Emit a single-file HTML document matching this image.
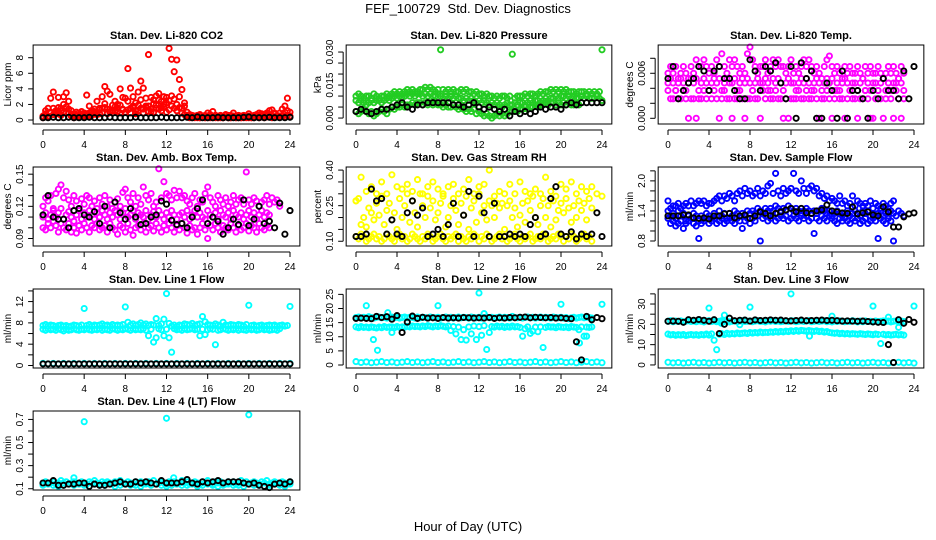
<!DOCTYPE html>
<html><head><meta charset="utf-8"><title>FEF_100729 Std. Dev. Diagnostics</title>
<style>
html,body{margin:0;padding:0;background:#fff;}
svg{display:block;font-family:"Liberation Sans",Arial,sans-serif;}
</style></head>
<body>
<svg id="chart" width="936" height="540" viewBox="0 0 936 540" xmlns="http://www.w3.org/2000/svg">
<rect x="0" y="0" width="936" height="540" fill="#fff"/>
<text x="468" y="13" text-anchor="middle" font-size="13">FEF_100729&#160; Std. Dev. Diagnostics</text>
<text x="468" y="531" text-anchor="middle" font-size="13">Hour of Day (UTC)</text>
</svg>
<script>
// ---------- shared categories ----------
const HOURS_Q = []; for (let i = 0; i < 97; i++) HOURS_Q.push(i * 0.25);
const HOURS_H = []; for (let i = 0; i < 49; i++) HOURS_H.push(i * 0.5);
const xTicks = [0, 4, 8, 12, 16, 20, 24];
const xTickLabels = ["0", "4", "8", "12", "16", "20", "24"];

// ---------- Panel 1: Li-820 CO2 ----------
const co2A = [0.5,1.2,1.5,2.8,3.6, 1.0,2.9,1.5,3.0, 3.5,2.4,1.2,0.8, 1.0,0.6,1.1,0.9, 3.2,1.8,1.0,1.4, 2.4,1.5,3.0,4.3, 3.7,3.3,1.9,2.4, 2.0,4.0,2.9,2.8, 6.6,4.1,3.0,2.2, 3.6,5.0,4.1,2.8, 8.4,2.9,2.6,3.1, 3.4,2.4,3.0,2.2, 9.2,7.8,6.2,7.7, 5.2,3.9,2.2,1.0, 0.7,0.6,0.5,0.6, 0.7,0.5,0.6,0.9, 0.7,1.1,0.6,0.5, 0.6,0.5,0.7,0.6, 0.6,0.9,0.5,0.6, 0.5,0.6,0.4,0.8, 0.5,0.6,0.7,0.9, 0.8,0.6,0.9,1.2, 1.3,0.8,0.6,0.9, 1.4,1.8,2.8,1.0];
const co2B = [0.3,0.6,0.4,1.0,1.5, 0.8,1.6,1.2,2.0, 1.7,0.9,0.6,0.5, 0.4,0.5,0.7,0.4, 0.8,0.6,1.2,0.9, 1.0,0.8,1.5,2.1, 1.4,1.0,1.2,1.7, 1.5,1.9,1.3,1.0, 2.4,1.5,1.8,1.2, 1.9,2.6,1.4,1.6, 1.8,1.1,2.1,1.5, 2.6,1.6,2.0,2.9, 2.5,3.1,2.7,2.0, 3.0,1.5,1.8,0.6, 0.4,0.3,0.4,0.3, 0.3,0.4,0.3,0.5, 0.4,0.3,0.6,0.3, 0.4,0.3,0.4,0.3, 0.3,0.5,0.3,0.4, 0.3,0.4,0.3,0.5, 0.3,0.4,0.5,0.6, 0.5,0.7,0.4,0.6, 0.5,0.9,0.4,0.5, 0.6,1.0,1.2,0.5];
const co2C = [0.4,0.8,0.5,0.9,0.7, 1.2,0.8,0.6,1.0, 0.9,1.4,0.5,0.3, 0.6,0.9,0.5,0.7, 0.5,0.9,0.6,1.1, 0.7,1.3,0.9,1.6, 0.8,1.1,0.9,1.2, 1.1,0.9,1.4,1.0, 1.3,0.9,1.6,0.8, 1.2,1.5,0.9,1.8, 1.1,1.4,1.0,1.9, 1.4,1.2,1.7,1.0, 1.3,1.8,1.5,1.2, 1.6,0.9,0.7,0.4, 0.3,0.4,0.3,0.4, 0.3,0.5,0.3,0.3, 0.3,0.4,0.3,0.3, 0.3,0.3,0.4,0.3, 0.3,0.4,0.3,0.3, 0.3,0.3,0.4,0.3, 0.3,0.3,0.4,0.3, 0.4,0.3,0.5,0.4, 0.3,0.4,0.5,0.4, 0.5,0.4,0.6,0.4];
const co2Black = [0.3,0.3,0.35,0.3,0.3,0.35,0.3,0.3,0.3,0.35,0.3,0.3,0.3,0.35,0.3,0.3,0.3,0.3,0.35,0.3,0.3,0.3,0.3,0.35,0.3,0.3,0.3,0.3,0.35,0.3,0.4,0.3,0.3,0.3,0.35,0.3,0.3,0.3,0.3,0.35,0.4,0.3,0.3,0.3,0.35,0.3,0.3,0.3,0.35];
const co2Ticks = [0,2,4,6,8];
const co2TickLabels = ["0","2","4","6","8"];

// ---------- Panel 2: Li-820 Pressure ----------
const presA = [.010,.011,.010,.009,.010, .010,.009,.011,.010, .009,.010,.010,.011, .010,.011,.012,.011, .012,.011,.012,.013, .012,.013,.012,.012, .013,.013,.014,.013, .014,.013,.012,.013, .031,.013,.012,.013, .012,.013,.012,.012, .013,.012,.013,.012, .012,.011,.012,.011, .011,.010,.011,.010, .010,.009,.010,.009, .010,.010,.009,.010, .029,.009,.010,.010, .010,.011,.010,.011, .011,.010,.011,.012, .011,.012,.012,.013, .012,.013,.012,.013, .012,.013,.012,.012, .012,.011,.012,.012, .012,.011,.012,.011, .012,.011,.012,.031];
const presB = [.008,.007,.008,.007,.006, .007,.008,.007,.008, .008,.007,.008,.009, .008,.009,.010,.009, .010,.009,.010,.011, .010,.011,.010,.011, .011,.010,.011,.010, .011,.010,.010,.011, .010,.009,.010,.009, .010,.009,.010,.009, .009,.008,.009,.008, .009,.008,.007,.008, .007,.008,.007,.006, .007,.006,.007,.006, .005,.006,.007,.006, .006,.007,.006,.007, .007,.006,.007,.008, .007,.008,.008,.007, .008,.009,.008,.009, .009,.010,.009,.010, .010,.009,.010,.009, .010,.009,.009,.010, .009,.010,.009,.009, .009,.010,.009,.008];
const presC = [.003,.002,.003,.004,.003, .002,.003,.001,.002, .003,.004,.003,.002, .004,.005,.004,.005, .005,.006,.005,.006, .006,.007,.006,.007, .007,.006,.007,.006, .007,.006,.007,.006, .006,.005,.006,.005, .005,.006,.005,.004, .005,.004,.003,.004, .003,.004,.002,.003, .002,.001,.002,.001, .000,.001,.002,.001, .002,.001,.002,.003, .003,.004,.003,.004, .004,.005,.004,.005, .005,.006,.005,.006, .006,.007,.006,.007, .007,.006,.007,.006, .007,.006,.007,.006, .006,.007,.006,.007];
const presBlack = [.003,.004,.003,.002,.003,.004,.004,.005,.006,.007,.005,.004,.006,.006,.007,.007,.007,.007,.007,.006,.006,.005,.006,.007,.005,.004,.005,.004,.003,.004,.001,.003,.002,.003,.002,.003,.005,.004,.005,.005,.004,.006,.007,.006,.007,.007,.007,.007,.007];
const presTicks = [0,.005,.010,.015,.020,.025,.030];
const presTickLabels = ["0.000","","","0.015","","","0.030"];

// ---------- Panel 3: Li-820 Temp ----------
const tempA = [.006,.0069,.006,.0069,.0053, .006,.0069,.006,.0053, .0069,.006,.0078,.0069, .0069,.0078,.0069,.006, .0069,.006,.0078,.0069, .0086,.0069,.006,.0078, .0069,.0078,.0069,.006, .0069,.006,.0086,.0095, .0078,.0069,.006,.0069, .0069,.0078,.006,.0069, .0078,.0069,.0078,.0069, .0069,.006,.0069,.0078, .006,.0069,.006,.0069, .0078,.0069,.0078,.0069, .006,.0069,.006,.0053, .0069,.0078,.0083,.0069, .006,.0069,.006,.0053, .0069,.006,.0069,.006, .006,.0069,.006,.0053, .0069,.006,.0069,.006, .006,.0069,.006,.0053, .006,.0069,.006,.0069, .006,.0053,.0069,.006];
const tempB = [.0047,.0053,.0047,.0037,.0047, .0053,.0047,.0037,.0047, .0053,.0047,.0053,.0037, .0047,.0053,.0047,.0037, .0047,.0053,.0047,.0053, .0037,.0047,.0053,.0047, .0047,.0053,.0037,.0047, .0053,.0047,.0053,.0047, .0037,.0047,.0053,.0047, .0047,.0053,.0047,.0037, .0053,.0047,.0053,.0047, .0037,.0047,.0053,.0047, .0047,.0037,.0047,.0053, .0047,.0053,.0047,.0037, .0047,.0053,.0047,.0037, .0047,.0053,.0047,.0053, .0037,.0047,.0037,.0047, .0053,.0047,.0037,.0047, .0047,.0037,.0047,.0053, .0037,.0047,.0037,.0047, .0047,.0037,.0047,.0053, .0037,.0047,.0037,.0047, .0047,.0053,.0047,.0037];
const tempC = [.0037,.0026,.0026,.0037,.0026, .0026,.0037,.0026,0, .0026,.0026,0,.0026, .0026,.0037,.0026,.0037, .0026,.0037,.0026,0, .0026,.0037,.0026,.0026, 0,.0026,.0026,.0037, .0026,0,.0026,.0026, .0037,.0026,.0026,0, .0037,.0026,.0037,.0026, .0026,.0037,.0026,.0026, 0,.0026,0,.0026, .0026,.0026,.0037,.0026, .0026,.0037,.0026,.0026, .0037,.0026,0,.0026, .0026,.0037,.0026,0, .0026,.0037,.0026,.0026, 0,.0026,.0037,.0026, .0026,0,.0026,.0026, .0037,.0026,0,0, .0026,.0037,.0026,0, .0026,.0037,.0026,0, .0037,.0026,0,.0026];
const tempBlack = [.0053,.0069,.0026,.0037,.0047,.0053,.0069,.0063,.0037,.0063,.0069,.0053,.0053,.0037,.0026,.0026,.0078,.0063,.0037,.0069,.0063,.0074,.0047,.0026,.0069,0,.0074,.0053,.0063,0,0,.0047,.0037,0,.0063,0,.0037,.0037,.0026,0,.0037,.0026,.0053,.0037,.0037,.0026,.0063,.0026,.0069];
const tempTicks = [0,.002,.004,.006,.008];
const tempTickLabels = ["0.000","","","0.006",""];

// ---------- Panel 4: Amb. Box Temp ----------
const boxA = [.12,.128,.125,.13,.118, .132,.136,.14,.128, .134,.126,.12,.13, .125,.118,.127,.122, .13,.128,.12,.125, .118,.128,.122,.13, .12,.126,.118,.124, .127,.12,.133,.136, .128,.124,.132,.12, .128,.122,.138,.13, .126,.132,.12,.124, .155,.128,.143,.132, .13,.126,.135,.128, .134,.128,.13,.125, .122,.128,.132,.12, .126,.124,.132,.138, .128,.124,.12,.13, .126,.122,.128,.12, .124,.13,.122,.126, .128,.122,.152,.126, .122,.128,.125,.12, .124,.126,.13,.122, .128,.124,.126,.12];
const boxB = [.11,.114,.108,.112,.116, .11,.114,.118,.108, .112,.115,.11,.106, .112,.116,.108,.114, .11,.116,.112,.108, .114,.11,.116,.112, .108,.114,.11,.116, .112,.108,.114,.118, .11,.112,.116,.108, .114,.112,.11,.116, .108,.112,.115,.11, .116,.112,.108,.114, .11,.116,.112,.108, .112,.114,.11,.116, .108,.112,.116,.11, .114,.11,.108,.116, .112,.11,.114,.108, .116,.112,.11,.114, .108,.116,.112,.11, .114,.108,.112,.116, .11,.114,.108,.112, .116,.11,.114,.112];
const boxC = [.1,.098,.104,.1,.106, .102,.096,.104,.1, .098,.104,.096,.1, .095,.102,.098,.104, .1,.096,.102,.1, .104,.098,.1,.102, .096,.104,.1,.098, .094,.102,.1,.096, .104,.098,.093,.1, .102,.098,.104,.096, .1,.102,.097,.104, .1,.096,.102,.098, .104,.1,.096,.102, .098,.104,.1,.095, .102,.098,.1,.094, .1,.104,.098,.09, .102,.098,.104,.1, .096,.102,.1,.098, .104,.1,.096,.102, .098,.1,.104,.097, .102,.1,.096,.104, .1,.098,.102,.1];
const boxBlack = [.112,.13,.11,.108,.108,.1,.116,.118,.112,.11,.115,.104,.12,.1,.124,.114,.108,.118,.11,.103,.104,.11,.112,.125,.122,.107,.103,.104,.1,.11,.118,.126,.104,.11,.106,.094,.1,.108,.103,.126,.102,.108,.12,.104,.106,.1,.123,.094,.116];
const boxTicks = [.09,.10,.11,.12,.13,.14,.15];
const boxTickLabels = ["0.09","","","0.12","","","0.15"];

// ---------- Panel 5: Gas Stream RH ----------
const rhA = [.12,.11,.13,.12,.1, .11,.12,.13,.11, .12,.1,.11,.13, .12,.11,.1,.12, .13,.11,.12,.1, .11,.13,.12,.11, .1,.12,.11,.13, .12,.1,.11,.12, .13,.11,.1,.12, .11,.12,.13,.1, .12,.11,.1,.12, .11,.13,.12,.1, .12,.11,.13,.12, .1,.11,.12,.13, .11,.12,.1,.11, .12,.13,.11,.1, .12,.11,.12,.13, .1,.11,.12,.11, .13,.12,.1,.11, .12,.11,.13,.12, .1,.12,.11,.13, .12,.1,.11,.12, .13,.11,.12,.1];
const rhB = [.27,.28,.17,.2,.16, .24,.22,.19,.26, .21,.29,.17,.23, .26,.19,.22,.15, .28,.2,.25,.3, .18,.27,.22,.16, .3,.25,.2,.33, .24,.27,.19,.22, .26,.29,.16,.2, .25,.28,.23,.17, .26,.21,.29,.15, .24,.27,.18,.3, .22,.25,.19,.27, .25,.2,.26,.24, .26,.15,.25,.27, .2,.24,.16,.21, .26,.18,.27,.23, .29,.2,.17,.25, .28,.2,.25,.16, .27,.19,.23,.26, .22,.28,.24,.18, .25,.2,.27,.23, .26,.19,.28,.24];
const rhC = [.27,.37,.31,.33,.3,.35,.3,.38,.33,.32,.34,.31,.36,.3,.29,.35,.32,.3,.33,.34,.3,.32,.36,.3,.33,.34,.4,.29,.31,.3,.34,.3,.35,.31,.3,.32,.3,.37,.31,.29,.34,.32,.35,.3,.33,.31,.33,.3,.29];
const rhBlack = [.12,.12,.13,.32,.27,.28,.13,.19,.13,.12,.22,.27,.21,.24,.12,.13,.15,.12,.17,.26,.12,.21,.31,.12,.29,.22,.12,.26,.12,.12,.13,.12,.13,.12,.17,.2,.12,.13,.28,.33,.13,.12,.14,.11,.13,.12,.13,.22,.12];
const rhTicks = [.10,.15,.20,.25,.30,.35,.40];
const rhTickLabels = ["0.10","","","0.25","","","0.40"];

// ---------- Panel 6: Sample Flow ----------
const sfA = [1.4,1.3,1.35,1.25,1.4, 1.3,1.35,1.2,1.3, 1.25,1.35,1.3,1.2, 1.3,1.25,1.35,1.3, 1.25,1.35,1.3,1.4, 1.3,1.35,1.25,1.35, 1.3,1.4,1.35,1.3, 1.35,1.3,1.4,1.35, 1.4,1.35,1.45,1.4, 1.35,1.45,1.4,1.45, 1.4,1.5,1.45,1.4, 1.45,1.4,1.5,1.45, 1.4,1.45,1.4,1.35, 1.4,1.45,1.4,1.35, 1.4,1.35,1.4,1.45, 1.4,1.35,1.4,1.3, 1.35,1.4,1.35,1.3, 1.35,1.4,1.3,1.35, 1.4,1.35,1.3,1.4, 1.35,1.4,1.3,1.35, 1.3,1.35,1.4,1.3, 1.35,1.3,1.4,1.35, 1.3,1.4,1.35,1.3];
const sfB = [1.25,1.15,1.2,1.1,1.15, 1.2,1.05,1.15,1.2, 1.25,1.15,1.1,0.85, 1.15,1.2,1.25,1.15, 1.2,1.25,1.15,1.2, 1.25,1.15,1.2,1.25, 1.2,1.15,1.25,1.2, 1.05,1.2,1.25,1.15, 1.25,1.2,1.3,0.8, 1.25,1.3,1.2,1.25, 1.3,1.2,1.25,1.3, 1.25,1.3,1.2,1.25, 1.3,1.25,1.2,1.3, 1.25,1.3,1.2,1.25, 0.95,1.25,1.2,1.3, 1.25,1.2,1.3,1.25, 1.2,1.15,1.25,1.2, 1.25,1.2,1.15,1.25, 1.2,1.25,1.15,1.2, 1.25,1.15,1.2,1.25, 1.2,0.85,1.25,1.2, 1.15,1.25,1.2,0.8];
const sfC = [1.6,1.45,1.5,1.5,1.55, 1.45,1.5,1.55,1.5, 1.6,1.5,1.55,1.6, 1.55,1.6,1.5,1.55, 1.55,1.6,1.65,1.7, 1.6,1.7,1.65,1.75, 1.7,1.6,1.75,1.8, 1.7,1.85,1.75,1.8, 1.7,1.75,1.85,1.7, 1.8,1.75,1.9,1.95, 1.75,2.15,1.8,1.7, 1.85,1.75,1.8,1.85, 2.15,1.8,1.75,2.0, 1.85,1.75,1.85,1.9, 1.8,1.85,1.7,1.75, 1.65,1.7,1.6,1.65, 1.6,1.55,1.7,1.55, 1.6,1.5,1.55,1.7, 1.5,1.6,1.55,1.5, 1.55,1.5,1.6,1.45, 1.55,1.5,1.45,1.55, 1.5,1.45,1.55,1.6];
const sfBlack = [1.3,1.3,1.3,1.32,1.32,1.26,1.25,1.26,1.24,1.3,1.3,1.34,1.35,1.26,1.3,1.32,1.25,1.3,1.38,1.35,1.3,1.35,1.38,1.42,1.45,1.38,1.45,1.36,1.35,1.4,1.42,1.52,1.4,1.38,1.36,1.35,1.48,1.34,1.36,1.38,1.32,1.3,1.48,1.38,1.08,1.08,1.28,1.34,1.36];
const sfTicks = [0.8,1.0,1.2,1.4,1.6,1.8,2.0,2.2];
const sfTickLabels = ["0.8","","","1.4","","","2.0",""];

// ---------- Panel 7: Line 1 Flow ----------
const l1A = [7.5,7.7,7.4,7.6,7.5, 7.3,7.5,7.6,7.4, 7.5,7.3,7.4,7.6, 7.5,7.4,7.6,10.7, 7.5,7.7,7.4,7.6, 7.5,7.6,7.8,7.5, 7.6,7.4,7.7,7.5, 7.6,7.5,7.7,11.0, 8.1,7.6,7.8,7.5, 7.7,8.0,7.6,7.8, 7.5,7.7,7.6,8.8, 7.5,7.8,8.7,13.5, 7.9,7.4,7.6,7.3, 7.6,7.5,7.8,7.7, 7.6,7.9,7.5,7.7, 7.8,9.2,8.2,7.7, 7.6,7.5,7.8,7.6, 7.4,8.1,7.6,7.5, 7.7,7.6,7.5,7.7, 7.6,7.4,7.7,11.3, 7.5,7.6,7.4,7.5, 7.6,7.4,7.5,7.6, 7.5,7.6,7.4,7.5, 7.6,7.4,7.5,11.1];
const l1B = [6.8,6.6,6.9,6.7,6.8, 6.6,6.9,6.7,6.5, 6.8,6.6,6.7,6.9, 6.7,6.6,6.8,6.7, 6.9,6.7,6.6,6.8, 6.7,6.9,6.6,6.8, 6.7,6.6,6.9,6.8, 6.6,6.8,6.7,6.9, 6.8,6.6,6.9,6.7, 6.8,6.7,6.9,6.6, 5.6,6.8,4.4,5.2, 6.9,6.7,5.6,6.8, 5.2,2.5,6.9,6.7, 6.8,6.6,6.9,6.7, 6.8,6.9,6.7,6.8, 5.6,6.8,5.8,6.7, 6.9,6.8,3.9,6.6, 6.7,6.9,6.8,6.6, 6.8,6.7,6.9,6.6, 6.8,6.7,6.6,6.9, 6.7,6.8,6.6,6.7, 6.9,6.7,6.8,6.6, 6.7,6.8,6.6,6.9];
const l1C = [0.4,0.3,0.4,0.3,0.4,0.3,0.4,0.3,0.4,0.3,0.4,0.3,0.4,0.3,0.4,0.3,0.4,0.3,0.4,0.3,0.4,0.3,0.4,0.3,0.4,0.3,0.4,0.3,0.4,0.3,0.4,0.3,0.4,0.3,0.4,0.3,0.4,0.3,0.4,0.3,0.4,0.3,0.4,0.3,0.4,0.3,0.4,0.3,0.4];
const l1Black = [0.3,0.3,0.3,0.3,0.3,0.3,0.3,0.3,0.3,0.3,0.3,0.3,0.3,0.3,0.3,0.3,0.3,0.3,0.3,0.3,0.3,0.3,0.3,0.3,0.3,0.3,0.3,0.3,0.3,0.3,0.3,0.3,0.3,0.3,0.3,0.3,0.3,0.3,0.3,0.3,0.3,0.3,0.3,0.3,0.3,0.3,0.3,0.3,0.3];
const l1Ticks = [0,2,4,6,8,10,12,14];
const l1TickLabels = ["0","","4","","8","","12",""];

// ---------- Panel 8: Line 2 Flow ----------
const l2A = [16.8,17.0,16.6,16.9,16.7, 17.1,16.8,16.6,16.9, 17.0,16.7,16.9,16.6, 16.8,17.0,16.7,16.9, 16.6,16.8,17.0,16.7, 16.9,16.8,16.6,17.0, 16.7,16.9,16.8,16.6, 17.0,16.8,16.7,16.9, 16.6,16.8,17.0,16.7, 16.9,16.6,16.8,17.0, 16.7,16.9,16.8,16.6, 17.0,16.8,16.7,16.9, 16.6,16.8,17.0,16.7, 16.9,16.6,16.8,17.0, 16.7,16.9,16.8,16.6, 17.2,16.8,16.7,16.9, 16.6,16.8,17.0,16.7, 16.9,16.6,16.8,17.0, 16.7,16.9,16.8,16.6, 17.0,16.8,16.7,16.9, 16.6,16.8,16.4,16.7, 16.9,16.6,16.8,17.0, 16.7,16.9,16.8,16.6];
const l2B = [13.5,13.2,13.6,13.3,13.4, 13.2,13.5,13.3,13.1, 13.4,13.2,13.6,13.3, 13.4,13.5,13.2,13.6, 13.3,13.5,13.4,13.7, 13.5,13.8,13.6,13.7, 13.5,13.8,13.6,13.9, 13.7,13.5,13.8,13.6, 13.9,13.7,13.5,13.8, 12.2,13.6,11.0,13.4, 9.0,12.5,8.8,13.5, 11.0,13.8,9.0,13.6, 10.5,13.9,5.5,11.5, 13.6,13.4,13.8,13.5, 13.7,13.3,13.6,13.4, 13.8,13.5,13.6,13.3, 10.2,12.8,13.5,11.2, 12.0,13.4,11.8,13.5, 6.2,13.3,13.6,13.4, 13.5,13.2,13.6,13.4, 13.3,13.5,13.2,13.6, 13.4,13.3,12.5,13.5, 10.2,13.4,13.3,13.5];
const l2C = [1.2,0.9,1.1,0.8,1.0,1.2,0.9,1.1,0.8,1.0,1.2,0.9,1.1,0.8,1.0,1.2,0.9,1.1,0.8,1.0,1.2,0.9,1.1,0.8,1.0,1.2,0.9,1.1,0.8,1.0,1.2,0.9,1.1,0.8,1.0,1.2,0.9,1.1,0.8,1.0,1.2,0.9,1.1,0.8,1.0,1.2,0.9,1.1,0.8];
const l2OutHours = [1.0, 1.7, 2.1, 3.1, 3.5, 8.0, 12.0, 20.0, 22.5, 24.0, 21.8, 12.5];
const l2OutVals = [21.0, 9.0, 5.2, 18.5, 11.5, 21.0, 25.5, 21.5, 10.2, 21.5, 7.8, 18.2];
const l2Black = [16.5,16.6,16.5,16.4,17.2,16.8,17.1,16.2,17.5,11.5,15.2,17.3,16.5,16.9,16.6,16.7,16.5,16.8,16.6,16.7,16.6,16.8,16.7,16.6,16.7,16.6,16.8,16.5,16.7,16.6,16.8,16.7,16.9,17.0,16.7,16.9,16.8,16.7,16.8,16.6,16.7,16.5,16.4,8.2,1.8,17.2,16.0,16.8,16.4];
const l2Ticks = [0,5,10,15,20,25];
const l2TickLabels = ["0","5","10","15","20","25"];

// ---------- Panel 9: Line 3 Flow ----------
const l3A = [21.5,21.8,21.3,21.6,21.4, 21.7,21.2,21.5,21.8, 21.4,21.6,21.3,21.7, 21.5,21.2,21.6,21.8, 21.4,21.7,21.3,21.5, 21.8,21.4,21.6,21.2, 21.5,21.7,21.3,21.6, 21.8,21.4,21.5,21.7, 21.3,21.6,21.8,21.4, 21.5,21.2,21.7,21.5, 21.8,21.4,21.6,21.3, 21.5,21.7,21.4,21.8, 21.6,21.3,21.5,21.7, 21.4,21.6,21.8,21.3, 21.5,21.7,21.4,21.6, 21.8,21.3,21.5,21.2, 21.6,21.4,21.7,21.5, 21.3,21.6,21.4,21.8, 21.5,21.2,21.6,21.3, 21.7,21.4,21.5,21.2, 21.6,21.3,21.5,21.7, 21.4,21.6,21.2,21.5, 21.7,21.3,21.6,21.4];
const l3B = [15.2,14.8,15.0,14.6,14.9, 14.7,15.0,14.5,14.8, 15.0,14.7,14.9,14.6, 15.0,14.8,15.2,14.7, 15.3,12.2,7.5,15.1, 15.4,15.0,15.6,15.2, 15.5,15.3,15.7,15.4, 15.6,15.8,15.5,16.0, 15.7,16.0,15.8,16.2, 15.9,16.1,16.0,16.3, 16.1,16.4,16.2,16.5, 16.3,16.6,16.4,16.8, 16.5,16.9,16.6,17.0, 16.8,16.6,16.9,16.7, 16.5,16.8,16.4,16.6, 16.2,16.4,16.0,15.8, 15.6,15.8,15.4,15.6, 15.3,15.5,15.2,15.4, 15.3,15.1,15.4,15.2, 15.0,15.3,15.1,14.9, 15.2,15.0,10.5,15.1, 14.8,15.0,14.7,14.9, 15.1,14.8,15.0,14.7];
const l3C = [1.3,1.0,1.2,0.9,1.1,1.3,1.0,1.2,0.9,1.1,1.3,1.0,1.2,0.9,1.1,1.3,1.0,1.2,0.9,1.1,1.3,1.0,1.2,0.9,1.1,1.3,1.0,1.2,0.9,1.1,1.3,1.0,1.2,0.9,1.1,1.3,1.0,1.2,0.9,1.1,1.3,1.0,1.2,0.9,1.1,1.3,1.0,1.2,0.9];
const l3OutHours = [4.0, 5.5, 5.2, 8.0, 12.0, 16.0, 20.0, 21.5, 22.5, 24.0, 13.8, 7.0];
const l3OutVals = [28.0, 24.5, 20.5, 28.5, 35.0, 24.0, 29.0, 23.5, 18.5, 29.0, 14.2, 19.8];
const l3Black = [21.5,21.6,21.5,21.0,22.3,22.0,22.4,22.0,21.5,22.3,15.5,20.0,23.0,21.8,22.0,22.1,21.6,22.2,21.9,22.0,22.2,22.0,22.1,21.8,21.7,21.9,22.1,21.8,21.9,22.0,22.1,21.9,22.0,21.8,21.6,21.7,21.6,21.5,21.6,21.4,21.2,21.0,20.9,10.0,1.2,22.3,20.5,22.4,21.0];
const l3Ticks = [0,5,10,15,20,25,30,35];
const l3TickLabels = ["0","","10","","20","","30",""];

// ---------- Panel 10: Line 4 (LT) Flow ----------
const l4A = [.15,.16,.14,.15,.16, .14,.15,.17,.15, .16,.14,.15,.16, .15,.14,.16,.15, .14,.16,.15,.17, .15,.14,.16,.15, .16,.15,.14,.16, .15,.17,.15,.14, .16,.15,.14,.16, .15,.16,.14,.15, .16,.15,.17,.14, .15,.16,.15,.14, .16,.15,.16,.14, .15,.17,.15,.16, .14,.15,.16,.15, .14,.16,.15,.17, .15,.14,.16,.15, .16,.15,.14,.16, .15,.16,.14,.15, .17,.15,.16,.14, .15,.16,.15,.14, .16,.15,.17,.14, .15,.16,.15,.14, .16,.15,.14,.16];
const l4B = [.13,.14,.13,.12,.13,.14,.13,.14,.13,.12,.14,.13,.13,.14,.12,.13,.14,.13,.13,.12,.14,.13,.14,.13,.12,.13,.14,.13,.13,.14,.12,.13,.14,.13,.12,.13,.14,.13,.13,.12,.14,.13,.13,.12,.13,.14,.13,.12,.14];
const l4OutHours = [4.0, 12.0, 20.0, 3.0, 12.7];
const l4OutVals = [0.68, 0.71, 0.74, 0.195, 0.195];
const l4Black = [.15,.15,.17,.13,.13,.14,.14,.15,.15,.12,.14,.13,.13,.14,.15,.16,.14,.14,.16,.15,.16,.15,.14,.17,.15,.15,.15,.16,.18,.15,.14,.16,.15,.16,.17,.15,.16,.16,.16,.15,.14,.15,.13,.12,.11,.14,.15,.14,.16];
const l4Ticks = [0.1,0.2,0.3,0.4,0.5,0.6,0.7];
const l4TickLabels = ["0.1","","0.3","","0.5","","0.7"];

// ---------- layout ----------
const COLS = [{h0: 43, h24: 290, yoff: 0}, {h0: 356, h24: 602, yoff: -3}, {h0: 668, h24: 914, yoff: -3}];
const ROW_TOPS = [45, 167, 289, 411];
const BOX_H = 79;
const NS = "http://www.w3.org/2000/svg";
const svg = document.getElementById("chart");

function mk(tag, attrs, parent) {
  const e = document.createElementNS(NS, tag);
  for (const k in attrs) e.setAttribute(k, attrs[k]);
  (parent || svg).appendChild(e);
  return e;
}

function makePanel(cfg) {
  const col = COLS[cfg.col];
  const top = ROW_TOPS[cfg.row];
  const bottom = top + BOX_H;
  const xs = h => col.h0 + (h / 24) * (col.h24 - col.h0);
  const ys = v => bottom - (v - cfg.ylim[0]) / (cfg.ylim[1] - cfg.ylim[0]) * BOX_H;
  const left = xs(-0.96), right = xs(24.96);
  const g = mk("g", {});
  
  
  const title = mk("text", {x: (left + right) / 2, y: top - 6, "text-anchor": "middle", "font-size": "11", "font-weight": "bold"}, g);
  title.textContent = cfg.title;
  
  
  const pts = mk("g", {fill: "none", "stroke-width": "1.9"}, g);
  
  
  cfg.series.forEach(s => {
    const n = Math.min(s.t.length, s.v.length);
    for (let i = 0; i < n; i++) {
      const c = mk("circle", {cx: xs(s.t[i]).toFixed(1), cy: ys(s.v[i]).toFixed(1), r: "2.6", stroke: s.color}, pts);
      
      
    }
  });
  const box = mk("rect", {x: left, y: top, width: right - left, height: BOX_H, fill: "none", stroke: "#000", "stroke-width": "1"}, g);
  
  
  // x axis
  const xa = mk("g", {stroke: "#000", "stroke-width": "1"}, g);
  
  
  const axY = bottom + 6;
  mk("line", {x1: xs(xTicks[0]), x2: xs(xTicks[xTicks.length - 1]), y1: axY, y2: axY}, xa);
  xTicks.forEach((t, i) => {
    mk("line", {x1: xs(t), x2: xs(t), y1: axY, y2: axY + 5}, xa);
    const tl = mk("text", {x: xs(t), y: axY + 18, "text-anchor": "middle", "font-size": "10", stroke: "none", fill: "#000"}, xa);
    tl.textContent = xTickLabels[i];
    
    
  });
  // y axis
  const ya = mk("g", {stroke: "#000", "stroke-width": "1"}, g);
  
  
  const axX = left + col.yoff;
  mk("line", {x1: axX, x2: axX, y1: ys(cfg.ticks[0]), y2: ys(cfg.ticks[cfg.ticks.length - 1])}, ya);
  cfg.ticks.forEach((t, i) => {
    mk("line", {x1: axX - 5, x2: axX, y1: ys(t), y2: ys(t)}, ya);
    if (cfg.tickLabels[i]) {
      const yy = ys(t);
      const tl = mk("text", {x: axX - 10, y: yy, "text-anchor": "middle", "font-size": "10", stroke: "none", fill: "#000", transform: "rotate(-90 " + (axX - 10) + " " + yy + ")"}, ya);
      tl.textContent = cfg.tickLabels[i];
      
      
    }
  });
  const cy = (top + bottom) / 2, cx = axX - 22;
  const yt = mk("text", {x: cx, y: cy, "text-anchor": "middle", "font-size": "10", transform: "rotate(-90 " + cx + " " + cy + ")"}, g);
  yt.textContent = cfg.ylabel;
  
  
}

const RED = "#ff0000", GREEN = "#22cc22", MAG = "#ff00ff", YEL = "#ffff00", BLUE = "#0000ff", CYAN = "#00ffff", BLK = "#000000";

makePanel({name: "co2", title: "Stan. Dev. Li-820 CO2", ylabel: "Licor ppm", col: 0, row: 0, ylim: [-0.51, 9.63], ticks: co2Ticks, tickLabels: co2TickLabels,
  series: [{t: HOURS_Q, v: co2C, color: RED}, {t: HOURS_Q, v: co2B, color: RED}, {t: HOURS_Q, v: co2A, color: RED}, {t: HOURS_H, v: co2Black, color: BLK}]});
makePanel({name: "pressure", title: "Stan. Dev. Li-820 Pressure", ylabel: "kPa", col: 1, row: 0, ylim: [-0.0027, 0.0332], ticks: presTicks, tickLabels: presTickLabels,
  series: [{t: HOURS_Q, v: presA, color: GREEN}, {t: HOURS_Q, v: presB, color: GREEN}, {t: HOURS_Q, v: presC, color: GREEN}, {t: HOURS_H, v: presBlack, color: BLK}]});
makePanel({name: "li820-temp", title: "Stan. Dev. Li-820 Temp.", ylabel: "degrees C", col: 2, row: 0, ylim: [-0.00076, 0.00977], ticks: tempTicks, tickLabels: tempTickLabels,
  series: [{t: HOURS_Q, v: tempA, color: MAG}, {t: HOURS_Q, v: tempB, color: MAG}, {t: HOURS_Q, v: tempC, color: MAG}, {t: HOURS_H, v: tempBlack, color: BLK}]});
makePanel({name: "amb-box-temp", title: "Stan. Dev. Amb. Box Temp.", ylabel: "degrees C", col: 0, row: 1, ylim: [0.083, 0.1567], ticks: boxTicks, tickLabels: boxTickLabels,
  series: [{t: HOURS_Q, v: boxA, color: MAG}, {t: HOURS_Q, v: boxB, color: MAG}, {t: HOURS_Q, v: boxC, color: MAG}, {t: HOURS_H, v: boxBlack, color: BLK}]});
makePanel({name: "gas-stream-rh", title: "Stan. Dev. Gas Stream RH", ylabel: "percent", col: 1, row: 1, ylim: [0.08, 0.413], ticks: rhTicks, tickLabels: rhTickLabels,
  series: [{t: HOURS_Q, v: rhA, color: YEL}, {t: HOURS_Q, v: rhB, color: YEL}, {t: HOURS_H, v: rhC, color: YEL}, {t: HOURS_H, v: rhBlack, color: BLK}]});
makePanel({name: "sample-flow", title: "Stan. Dev. Sample Flow", ylabel: "ml/min", col: 2, row: 1, ylim: [0.70, 2.277], ticks: sfTicks, tickLabels: sfTickLabels,
  series: [{t: HOURS_Q, v: sfC, color: BLUE}, {t: HOURS_Q, v: sfA, color: BLUE}, {t: HOURS_Q, v: sfB, color: BLUE}, {t: HOURS_H, v: sfBlack, color: BLK}]});
makePanel({name: "line1-flow", title: "Stan. Dev. Line 1 Flow", ylabel: "ml/min", col: 0, row: 2, ylim: [-0.47, 14.36], ticks: l1Ticks, tickLabels: l1TickLabels,
  series: [{t: HOURS_Q, v: l1A, color: CYAN}, {t: HOURS_Q, v: l1B, color: CYAN}, {t: HOURS_H, v: l1C, color: CYAN}, {t: HOURS_H, v: l1Black, color: BLK}]});
makePanel({name: "line2-flow", title: "Stan. Dev. Line 2 Flow", ylabel: "ml/min", col: 1, row: 2, ylim: [-1.06, 26.9], ticks: l2Ticks, tickLabels: l2TickLabels,
  series: [{t: HOURS_Q, v: l2A, color: CYAN}, {t: HOURS_Q, v: l2B, color: CYAN}, {t: HOURS_H, v: l2C, color: CYAN}, {t: l2OutHours, v: l2OutVals, color: CYAN}, {t: HOURS_H, v: l2Black, color: BLK}]});
makePanel({name: "line3-flow", title: "Stan. Dev. Line 3 Flow", ylabel: "ml/min", col: 2, row: 2, ylim: [-1.5, 37.4], ticks: l3Ticks, tickLabels: l3TickLabels,
  series: [{t: HOURS_Q, v: l3A, color: CYAN}, {t: HOURS_Q, v: l3B, color: CYAN}, {t: HOURS_H, v: l3C, color: CYAN}, {t: l3OutHours, v: l3OutVals, color: CYAN}, {t: HOURS_H, v: l3Black, color: BLK}]});
makePanel({name: "line4-flow", title: "Stan. Dev. Line 4 (LT) Flow", ylabel: "ml/min", col: 0, row: 3, ylim: [0.089, 0.773], ticks: l4Ticks, tickLabels: l4TickLabels,
  series: [{t: HOURS_Q, v: l4A, color: CYAN}, {t: HOURS_H, v: l4B, color: CYAN}, {t: l4OutHours, v: l4OutVals, color: CYAN}, {t: HOURS_H, v: l4Black, color: BLK}]});
</script>
</body></html>
